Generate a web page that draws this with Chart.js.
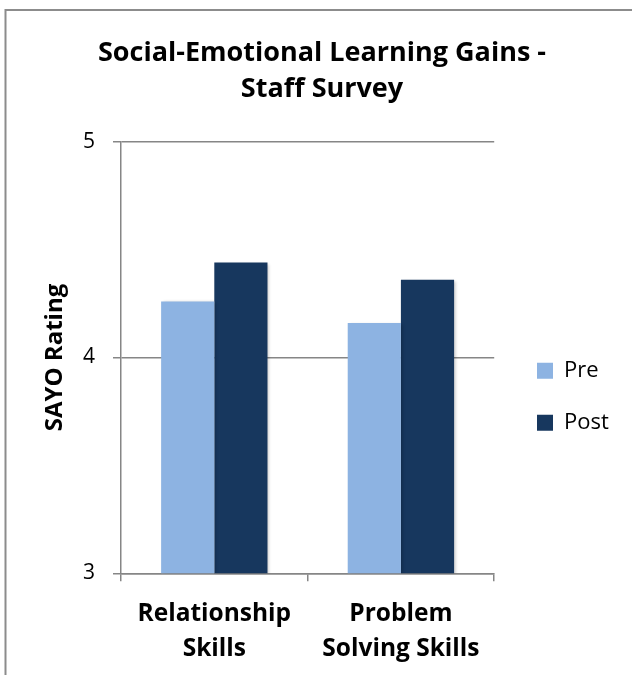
<!DOCTYPE html>
<html>
<head>
<meta charset="utf-8">
<script src="https://cdn.jsdelivr.net/npm/chart.js@4.4.1/dist/chart.umd.min.js"></script>
<style>
  html, body { margin: 0; padding: 0; background: #fff; }
  canvas { display: block; }
</style>
</head>
<body>
<canvas id="miGrafico" width="632" height="675"></canvas>
<script>
// Datos
const categorias = [['Relationship', 'Skills'], ['Problem', 'Solving Skills']];
const valoresPre = [4.26, 4.16];
const valoresPost = [4.44, 4.36];
const ejeYMin = 3;
const ejeYMax = 5;
const ejeYPaso = 1;

const colorPre = '#8DB3E2';
const colorPost = '#17375E';
const colorLinea = '#868686';

Chart.defaults.font.family = "'Open Sans', sans-serif";
Chart.defaults.color = '#000';

// Fondo blanco y marco exterior
const marco = {
    id: 'marco',
    beforeDraw(chart) {
        const ctx = chart.ctx;
        ctx.save();
        ctx.fillStyle = '#fff';
        ctx.fillRect(0, 0, chart.width, chart.height);
        ctx.strokeStyle = '#8c8c8c';
        ctx.lineWidth = 2;
        ctx.beginPath();
        ctx.moveTo(5.5, chart.height);
        ctx.lineTo(5.5, 10);
        ctx.lineTo(chart.width, 10);
        ctx.stroke();
        ctx.restore();
    }
};

// Ajustar titulo y leyenda como en el original
const ajustes = {
    id: 'ajustes',
    afterLayout(chart) {
        const tb = chart.titleBlock;
        const w = tb.right - tb.left;
        tb.left = 322 - w / 2;
        tb.right = 322 + w / 2;
        const lg = chart.legend;
        const dx = 507 - lg.left;
        lg.left += dx;
        lg.right += dx;
    }
};

// Sombra suave de las barras
const sombra = {
    id: 'sombra',
    beforeDatasetsDraw(chart) {
        const ctx = chart.ctx;
        ctx.save();
        ctx.shadowColor = 'rgba(0,0,0,0.22)';
        ctx.shadowBlur = 3;
        ctx.shadowOffsetX = 2;
        ctx.shadowOffsetY = 1;
    },
    afterDatasetsDraw(chart) {
        chart.ctx.restore();
    }
};

const ctx = document.getElementById('miGrafico').getContext('2d');

new Chart(ctx, {
    type: 'bar',
    data: {
        labels: categorias,
        datasets: [
            { label: 'Pre', data: valoresPre, backgroundColor: colorPre, borderWidth: 0 },
            { label: 'Post', data: valoresPost, backgroundColor: colorPost, borderWidth: 0 }
        ]
    },
    options: {
        responsive: false,
        animation: false,
        devicePixelRatio: 1,
        layout: { padding: { left: 0, right: 26, top: 0, bottom: 0 } },
        categoryPercentage: 0.57,
        barPercentage: 1.0,
        plugins: {
            title: {
                display: true,
                text: ['Social-Emotional Learning Gains -', 'Staff Survey'],
                font: { size: 27, weight: 'bold', lineHeight: '36px' },
                color: '#000',
                padding: { top: 35.3, bottom: 34.4 }
            },
            legend: {
                position: 'right',
                title: { display: true, text: '', padding: 52 },
                labels: {
                    boxWidth: 16,
                    boxHeight: 16,
                    padding: 30,
                    color: '#000',
                    font: { size: 22 }
                }
            },
            tooltip: { enabled: false }
        },
        scales: {
            x: {
                grid: {
                    offset: true,
                    drawOnChartArea: false,
                    tickLength: 8,
                    color: colorLinea,
                    lineWidth: 1.5
                },
                border: { color: colorLinea, width: 1.5 },
                ticks: {
                    padding: 15,
                    maxRotation: 0,
                    color: '#000',
                    font: { size: 24.5, weight: 'bold', lineHeight: '35px' }
                },
                afterFit(scale) { scale.height = 675 - 573.3; }
            },
            y: {
                min: ejeYMin,
                max: ejeYMax,
                ticks: {
                    stepSize: ejeYPaso,
                    padding: 18,
                    color: '#000',
                    font: { size: 21 }
                },
                grid: { color: colorLinea, lineWidth: 1.5, tickLength: 8 },
                border: { color: colorLinea, width: 1.5 },
                title: {
                    display: true,
                    text: 'SAYO Rating',
                    color: '#000',
                    font: { size: 24, weight: 'bold' },
                    padding: { top: 40.5, bottom: 0 }
                },
                afterFit(scale) { scale.width = 121; }
            }
        }
    },
    plugins: [marco, ajustes, sombra]
});
</script>
</body>
</html>
